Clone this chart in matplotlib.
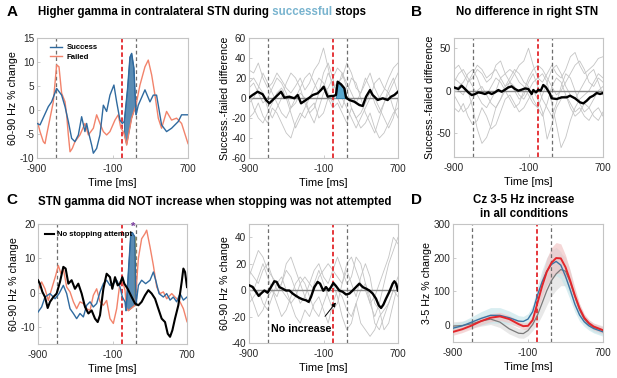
import numpy as np
import matplotlib
matplotlib.use('Agg')
import matplotlib.pyplot as plt

plt.rcParams['font.family'] = ['Liberation Sans', 'DejaVu Sans']
plt.rcParams['axes.unicode_minus'] = False

# ---------------- data ----------------
XTICKS = [-900, -100, 700]
EVENT_GRAY = [-700, 150]
EVENT_RED = 0

# Panel A (left): contralateral STN gamma, success vs failed
tA_success = [-900, -868, -780, -745, -692, -639, -603, -568, -533, -498, -462, -427, -392, -374, -356,
              -321, -303, -268, -233, -197, -162, -127, -85, -56, -21, 4, 25, 60, 85, 103, 127, 150,
              173, 244, 297, 332, 367, 385, 420, 473, 526, 597, 632, 700]
vA_success = [-2.8, -3.1, 0.7, 1.7, 4.5, 3.1, 0.7, -2.4, -5.9, -6.6, -5.2, -1.4, -4.5, -2.8, -4.5,
              -7.3, -9.0, -8.0, -5.2, 1.0, -0.3, 3.1, 5.2, 1.7, -2.1, -2.8, -2.4, 4.5, 11.0, 11.8, 8.7, -1.0,
              1.0, 4.2, 1.7, 3.1, 3.1, 1.0, -3.1, -4.5, -3.8, -2.4, -1.0, -1.0]
tA_failed = [-900, -868, -833, -815, -798, -727, -692, -667, -639, -603, -586, -568, -550, -526, -498,
             -445, -392, -356, -303, -268, -233, -197, -162, -127, -74, -39, -11, 14, 30, 50, 103, 149,
             191, 244, 279, 315, 350, 385, 420, 473, 526, 579, 632, 700]
vA_failed = [-2.1, -4.5, -6.6, -7.0, -5.2, 1.7, 9.4, 9.0, 3.5, 1.7, -1.0, -5.2, -8.7, -8.0, -6.6,
             -5.2, -2.8, -5.2, -3.8, -1.0, -2.8, -4.5, -5.2, -4.5, -2.1, -1.0, -3.8, -4.5, -5.5, -7.3, -1.7, 1.0,
             5.2, 9.0, 10.4, 7.3, 3.1, -1.7, -3.8, -0.3, -2.1, -1.7, -2.8, -7.0]
A_SIG = (25, 150)

# Panel A (right): success - failed difference, mean + individual patients
tA_diff = [-900, -861, -807, -753, -717, -682, -646, -592, -556, -520, -467, -413, -377, -341, -288,
           -252, -216, -163, -127, -98, -55, -19, 6, 34, 52, 88, 124, 142, 178, 231, 285, 321, 357,
           400, 428, 482, 536, 589, 625, 661, 700]
vA_diff = [0.3, 3.0, 6.3, 3.7, -2.0, -5.3, -2.0, 3.0, 6.3, 0.3, 1.3, -0.3, 3.0, -5.3, -2.0,
           0.3, 3.0, 4.7, 8.0, 11.3, 1.3, 2.0, 2.0, 3.0, 16.3, 13.7, 9.7, 0.3, -2.0, -3.7, -7.0, -8.0, 1.3,
           8.0, 3.0, -2.0, -0.3, -2.0, 1.3, 3.0, 6.3]
A_DIFF_SIG = (34, 142)
t_grid = np.arange(-900, 701, 50)
A_patients = [
    [28, 25, 35, 20, 10, 15, 25, 18, 10, 5, 12, 20, 8, 15, 28, 35, 50, 30, 10, 15, 20, 35, 25, 10, 5, 15, 25, 10, 0, 8, 20, 30, 35],
    [-20, -15, -5, -18, -25, -10, -15, -25, -35, -40, -25, -15, -20, -10, -5, -20, -15, 0, -10, -5, -15, -25, -10, -20, -30, -25, -15, -30, -40, -35, -25, -15, -10],
    [10, 15, 5, -5, 0, 10, 20, 15, 5, -10, -5, 5, 0, -15, -25, -10, 5, 10, 20, 30, 25, 10, -10, -20, -15, -5, 5, 0, -10, -20, -30, -20, 0],
    [-5, 0, 10, 25, 15, 5, -5, -15, -20, -10, 0, 10, 20, 25, 15, 5, 10, 25, 15, 5, 0, -10, -20, -30, -20, -10, 0, 15, 20, 10, 5, 15, 25],
    [5, -10, -20, -25, -15, -5, 5, 10, 0, -15, -30, -20, -10, 0, 10, 20, 15, 5, -5, 10, 25, 15, 5, -5, 5, 20, 10, -5, -15, -5, 10, 20, 5],
    [15, 20, 12, 5, -10, -20, -10, 0, 15, 25, 20, 10, -5, -15, -10, 5, 25, 35, 20, 0, -10, 5, 20, 15, 0, -15, -25, -35, -20, -5, 5, -10, -20],
]

# Panel B: right STN difference
tB_diff = [-900, -853, -818, -782, -746, -710, -674, -639, -603, -567, -531, -495, -460, -424, -388,
           -352, -316, -281, -245, -209, -173, -137, -102, -66, -48, -19, 6, 31, 59, 88, 131, 149, 203,
           256, 310, 346, 400, 453, 489, 525, 561, 596, 632, 668, 700]
vB_diff = [3.9, 2.0, 5.9, 2.0, -2.0, -5.1, -3.9, -2.0, -2.7, -3.9, -2.0, -3.9, -2.0, 0.8, -1.2,
           1.2, 3.9, 5.1, 2.0, 0.0, 1.2, 2.7, 2.0, -3.9, 0.8, -2.0, 1.2, 0.0, 6.7, 3.9, -3.9, -9.0, -9.8,
           -7.8, -7.8, -5.9, -9.0, -13.7, -14.9, -11.8, -7.8, -5.9, -2.7, -3.9, -2.7]
B_patients = [
    [25, 30, 20, 10, 15, 25, 20, 10, 15, 30, 35, 20, 10, 20, 30, 35, 50, 30, 15, 10, 20, 30, 20, 15, 25, 40, 45, 30, 20, 25, 30, 38, 40],
    [-20, -25, -15, -30, -40, -35, -20, -30, -45, -40, -25, -10, -5, -15, -25, -20, -10, 0, -10, -25, -57, -40, -20, -10, -5, -15, -25, -20, -30, -35, -25, -20, -30],
    [15, 10, 5, 0, -20, -45, -62, -55, -40, -20, -10, 0, 10, 5, -5, -10, 0, 10, 15, 20, 10, -15, -40, -67, -55, -35, -20, -10, -5, 0, 10, 20, 15],
    [0, 5, 10, 20, 25, 15, 0, -5, 5, 15, 10, 0, -10, -20, -15, 0, 15, 25, 30, 25, 15, 5, -5, 0, 10, 20, 30, 35, 25, 10, 5, 15, 10],
    [10, 20, 25, 15, 5, -5, -15, -20, -10, 0, 15, 20, 25, 20, 10, 5, -5, -15, -20, -30, -15, 5, 15, 10, -5, -20, -30, -25, -15, -20, -30, -35, -25],
    [-5, -15, -25, -20, -10, 0, 5, -5, -15, -20, -10, 5, 10, 0, -10, -5, 10, 20, 5, -10, -20, -30, -15, 5, 20, 15, 0, -15, -25, -20, -10, 0, 5],
    [5, 0, -5, 10, 20, 30, 25, 15, 20, 25, 15, 5, 15, 25, 20, 10, 5, -10, -20, -5, 10, 25, 30, 20, 5, -5, -10, 0, 10, 20, 25, 10, -5],
]

# Panel C (left): success, failed and no-stopping-attempt
tC_nostop = [-900, -880, -853, -825, -796, -771, -735, -700, -664, -628, -603, -574, -539, -503, -467,
             -431, -395, -359, -324, -288, -259, -234, -198, -163, -127, -102, -73, -44, -19, 6, 27, 63,
             106, 142, 178, 213, 249, 285, 321, 357, 392, 428, 464, 493, 518, 543, 571, 607, 643, 661, 679, 700]
vC_nostop = [3.6, 2.6, 0.2, -1.3, -4.5, -2.7, -1.3, -0.3, 3.1, 7.5, 7.0, 2.6, 3.6, 1.1, 2.6,
             -0.3, -4.2, -6.1, -5.2, -7.6, -8.6, -6.6, 1.1, 5.5, 4.5, 1.1, 4.5, 2.1, 2.6, 4.5, 2.6, 1.1,
             -1.3, -3.2, -3.7, -2.7, -0.8, 0.7, -0.3, -1.8, -4.7, -7.6, -8.6, -12.0, -12.9, -11.0, -7.6, -3.7, 3.1, 7.0, 6.0, 1.6]
tC_success = [-900, -861, -825, -771, -717, -674, -628, -592, -556, -520, -485, -449, -413, -377, -341,
              -306, -270, -234, -198, -163, -127, -91, -55, -19, 6, 34, 45, 75, 95, 113, 140, 152,
              178, 213, 256, 303, 339, 364, 400, 446, 482, 518, 553, 589, 625, 661, 700]
vC_success = [-5.7, -4.2, -1.3, -0.3, -1.8, -0.3, 2.1, -0.3, -4.7, -6.1, -7.6, -6.1, -7.1, -3.7, -2.7,
              -4.2, -3.2, 0.2, 2.6, 3.6, 2.1, 2.6, 3.6, 1.6, -1.3, -2.7, -5.3, 8.0, 16.5, 17.5, 16.2, -3.7,
              2.1, 3.6, 2.6, 3.6, 6.0, 3.6, -0.3, -1.3, -0.3, -2.2, -1.3, -2.7, -0.3, -2.2, -1.3]
tC_failed = [-900, -861, -825, -789, -753, -710, -682, -653, -628, -592, -556, -520, -485, -449, -413,
             -377, -341, -306, -270, -234, -198, -163, -127, -91, -55, -19, 6, 34, 50, 70, 106, 142,
             178, 213, 249, 267, 303, 339, 375, 410, 446, 482, 536, 571, 625, 661, 700]
vC_failed = [0.7, 3.1, 1.1, -2.3, 1.1, 5.0, 7.9, 5.5, 7.0, 1.6, 0.2, -2.7, -4.7, -2.7, -3.2,
             -4.7, -5.2, -0.8, 1.1, -2.7, -3.7, -2.3, -7.6, -9.0, -4.7, 3.1, 3.6, 0.7, -4.5, -5.3, -4.5, -3.7,
             10.0, 15.7, 17.2, 18.2, 13.3, 7.9, 1.6, -0.3, 0.2, -1.8, -0.3, -1.3, -2.7, -4.7, -8.5]
C_SIG = (45, 142)

# Panel C (right): no-stopping attempt, mean + individual patients
tC_mean = [-900, -861, -825, -796, -771, -735, -700, -664, -628, -603, -574, -539, -503, -467, -431,
           -395, -359, -324, -288, -259, -234, -198, -163, -137, -102, -73, -44, -19, 6, 34, 70, 106,
           142, 178, 213, 249, 285, 321, 357, 392, 428, 464, 493, 518, 543, 571, 607, 643, 661, 679, 700]
vC_mean = [3.7, 2.4, -1.3, -4.4, -2.6, -0.3, -2.0, 2.3, 6.7, 6.2, 2.3, 1.1, -0.3, -0.3, -2.6,
           -4.4, -5.9, -7.0, -7.7, -8.9, -5.1, 2.3, 6.2, 4.9, -0.5, 2.3, -0.3, 2.3, 5.4, 3.1, -0.3, -1.3,
           -3.3, -2.6, -0.3, 2.3, 4.9, 2.3, 1.1, -0.3, -2.6, -6.5, -11.5, -13.5, -11.0, -6.5, -1.3, 4.9, 6.7, 4.9, -0.3]
C_patients = [
    [10, 20, 30, 25, 15, 10, 5, 0, -5, -10, -5, 5, 10, 5, 0, 10, 15, 20, 15, 10, 5, 20, 25, 15, 5, 0, -10, -5, 5, 15, 25, 40, 35],
    [-10, -5, 0, -10, -15, -5, 5, 10, 0, -10, -20, -25, -15, -20, -10, -5, -15, -25, -10, 0, -5, -15, -20, -10, -25, -30, -35, -30, -20, -15, -10, 0, 10],
    [15, 10, 5, 15, 20, 10, 0, 5, 15, 10, 0, -10, -5, 5, 15, 20, 10, 5, 15, 25, 15, 5, 10, 25, 20, 5, -10, -20, -10, 5, 20, 30, 40],
    [0, -10, -20, -15, -5, 0, -10, -20, -15, -5, 5, 10, 5, -5, -15, -20, -10, 0, 5, -5, -20, -30, -25, -10, 0, 5, -5, -25, -30, -20, -10, 0, -5],
    [5, 0, 10, 20, 10, 0, -5, 5, 20, 25, 15, 5, -5, -10, 5, 15, 5, -5, -15, -10, 5, 15, 5, -5, 10, 20, 10, -10, -15, -30, -25, -10, 5],
]

# Panel D: Cz 3-5 Hz
tD = [-900, -800, -700, -600, -500, -400, -300, -200, -150, -100, -50, 0, 50, 100, 150, 200, 250,
      300, 350, 400, 450, 500, 550, 600, 700]
D_failed = [-20, -12, -1, 12, 22, 26, 18, 3, -3, -2, 15, 65, 115, 158, 185, 199, 198, 172, 132, 88, 50, 22, 6, -4, -15]
D_success = [-9, -2, 9, 20, 29, 29, 22, 12, 11, 18, 40, 88, 128, 160, 180, 189, 178, 145, 105, 62, 30, 10, -2, -10, -20]
D_nostop = [-3, -1, 4, 12, 18, 9, -11, -24, -25, -16, 2, 29, 65, 102, 132, 152, 165, 160, 128, 85, 45, 18, 3, -7, -15]
D_failed_ci = [10, 10, 10, 11, 12, 12, 11, 10, 10, 11, 14, 22, 32, 40, 45, 46, 43, 36, 28, 20, 14, 11, 10, 10, 10]
D_success_ci = [13, 13, 16, 20, 23, 23, 20, 16, 15, 16, 20, 27, 35, 40, 42, 42, 40, 35, 30, 23, 18, 14, 13, 13, 13]
D_nostop_ci = [13, 13, 13, 15, 16, 16, 15, 14, 14, 15, 18, 26, 36, 43, 46, 48, 48, 43, 36, 26, 18, 14, 13, 13, 13]

# ---------------- style ----------------
BLUE = '#2f6a9f'
SALMON = '#f2836b'
FILL_DARK = '#5a8cb4'
FILL_LIGHT = '#58a7cd'
RED = '#e3262b'
GREYDASH = '#6e6e6e'
INDIV = '#c4c4c4'
SPINE = '#c4c4c4'

W, H = 617, 378
fig = plt.figure(figsize=(W / 100, H / 100), dpi=100)


def rect(l, r, t, b):
    return [l / W, 1 - b / H, (r - l) / W, (b - t) / H]


def style(ax, ylim, yticks, ylabel, zero=False):
    ax.set_xlim(-900, 700)
    ax.set_ylim(*ylim)
    ax.set_xticks(XTICKS)
    ax.set_yticks(yticks)
    ax.set_xlabel('Time [ms]', fontsize=8, labelpad=2.5)
    ax.set_ylabel(ylabel, fontsize=7.7, labelpad=1)
    for s in ax.spines.values():
        s.set_color(SPINE)
        s.set_linewidth(0.8)
    ax.tick_params(direction='in', length=2.5, width=0.6, color=SPINE,
                   labelsize=7.2, pad=2, labelcolor='#262626')
    ax.tick_params(axis='x', pad=4.5)
    if zero:
        ax.axhline(0, color='#8a8a8a', lw=1.0, zorder=1.5)
    for x in EVENT_GRAY:
        ax.axvline(x, color=GREYDASH, lw=0.9, ls=(0, (3, 2.2)), zorder=1.6)
    ax.axvline(EVENT_RED, color=RED, lw=1.3, ls=(0, (2.5, 1.5)), zorder=1.7)


def window(t, v, lo, hi):
    t = np.asarray(t, float)
    v = np.asarray(v, float)
    m = (t >= lo) & (t <= hi)
    return t[m], v[m]


LEG_PROP = {'weight': 'bold', 'size': 5.6}

# ---- A left ----
ax = fig.add_axes(rect(37, 188, 38, 158))
style(ax, (-10, 15), [-10, -5, 0, 5, 10, 15], '60-90 Hz % change')
tb, vb = window(tA_success, vA_success, *A_SIG)
tr, vr = window(tA_failed, vA_failed, *A_SIG)
ax.fill(np.concatenate([tb, tr[::-1]]), np.concatenate([vb, vr[::-1]]),
        color=FILL_DARK, ec='#2d5f8c', lw=0.6, zorder=2)
l1, = ax.plot(tA_success, vA_success, color=BLUE, lw=1.0, zorder=3, label='Success')
l2, = ax.plot(tA_failed, vA_failed, color=SALMON, lw=1.0, zorder=2.5, label='Failed')
ax.legend(handles=[l1, l2], loc='upper left', bbox_to_anchor=(0.04, 1.01), frameon=False,
          handlelength=1.5, handletextpad=0.6, labelspacing=0.25, prop=LEG_PROP)

# ---- A right ----
ax = fig.add_axes(rect(249, 398, 38, 158))
style(ax, (-60, 60), [-60, -40, -20, 0, 20, 40, 60], 'Success.-failed difference', zero=True)
for tr_ in A_patients:
    ax.plot(t_grid, tr_, color=INDIV, lw=0.6, zorder=1.2)
tw, vw = window(tA_diff, vA_diff, *A_DIFF_SIG)
ax.fill_between(tw, 0, vw, color=FILL_LIGHT, ec='#2f7fad', lw=0.6, zorder=2)
ax.plot(tA_diff, vA_diff, color='black', lw=1.7, zorder=3)

# ---- B ----
ax = fig.add_axes(rect(454, 603, 38, 157))
style(ax, (-78, 62), [-50, 0, 50], 'Success.-failed difference', zero=True)
for tr_ in B_patients:
    ax.plot(t_grid, tr_, color=INDIV, lw=0.6, zorder=1.2)
ax.plot(tB_diff, vB_diff, color='black', lw=1.7, zorder=3)

# ---- C left ----
ax = fig.add_axes(rect(38, 187, 224, 344))
style(ax, (-15, 20), [-10, 0, 10, 20], '60-90 Hz % change')
tb, vb = window(tC_success, vC_success, *C_SIG)
tr, vr = window(tC_failed, vC_failed, *C_SIG)
ax.fill(np.concatenate([tb, tr[::-1]]), np.concatenate([vb, vr[::-1]]),
        color=FILL_DARK, ec='#2d5f8c', lw=0.6, zorder=2)
ax.plot([C_SIG[1], C_SIG[1]], [vr[-1], vb[-1]], color='#e8c53a', lw=1.0, zorder=2.2)
ax.plot(tC_failed, vC_failed, color=SALMON, lw=1.0, zorder=2.5)
ax.plot(tC_success, vC_success, color=BLUE, lw=1.0, zorder=3)
l3, = ax.plot(tC_nostop, vC_nostop, color='black', lw=1.5, zorder=3.5, label='No stopping attempt')
ax.legend(handles=[l3], loc='upper left', bbox_to_anchor=(0.0, 1.0), frameon=False,
          handlelength=1.2, handletextpad=0.4, prop=LEG_PROP)
ax.text(120, 19.3, '*', color='#7b3fa0', fontsize=8, fontweight='bold', ha='center', va='center',
        zorder=5, clip_on=False)

# ---- C right ----
ax = fig.add_axes(rect(249, 398, 224, 343))
style(ax, (-40, 50), [-40, -20, 0, 20, 40], '60-90 Hz % change', zero=True)
for tr_ in C_patients:
    ax.plot(t_grid, tr_, color=INDIV, lw=0.6, zorder=1.2)
ax.plot(tC_mean, vC_mean, color='black', lw=1.7, zorder=3)
ax.annotate('', xy=(52, -7.7), xytext=(-102, -21.5),
            arrowprops=dict(arrowstyle='-|>', color='black', lw=0.7, mutation_scale=6), zorder=4)
ax.text(-664, -29.4, 'No increase', fontsize=7.7, fontweight='bold', ha='left', va='center', zorder=4)

# ---- D ----
ax = fig.add_axes(rect(453, 603, 224, 342))
style(ax, (-50, 300), [0, 100, 200, 300], '3-5 Hz % change')
tDa = np.asarray(tD, float)
for mean, ci, fc in [(D_nostop, D_nostop_ci, '#dcdcdc'),
                     (D_success, D_success_ci, '#c6e5ea'),
                     (D_failed, D_failed_ci, '#f1c2c2')]:
    m = np.asarray(mean, float)
    c = np.asarray(ci, float)
    ax.fill_between(tDa, m - c, m + c, color=fc, alpha=0.65, lw=0, zorder=1.3)
for mean, lc, lw in [(D_nostop, '#7a7a7a', 0.9), (D_success, '#3a74a3', 1.0), (D_failed, RED, 1.4)]:
    ax.plot(tDa, mean, color=lc, lw=lw, zorder=3)

# ---------------- titles & panel letters ----------------
renderer = fig.canvas.get_renderer()
TITLE_FS = 8.3


def multicolor(x_px, y_px, parts):
    x = x_px / W
    for s, c in parts:
        t = fig.text(x, 1 - y_px / H, s, color=c, fontsize=TITLE_FS, fontweight='bold',
                     ha='left', va='center')
        bb = t.get_window_extent(renderer=renderer)
        x += bb.width / fig.bbox.width


multicolor(38, 12, [('Higher gamma in contralateral STN during', 'black'),
                    (' successful', '#79b4cf'),
                    (' stops', 'black')])
fig.text(527 / W, 1 - 12 / H, 'No difference in right STN', fontsize=TITLE_FS, fontweight='bold',
         ha='center', va='center')
fig.text(38 / W, 1 - 202 / H, 'STN gamma did NOT increase when stopping was not attempted',
         fontsize=TITLE_FS, fontweight='bold', ha='left', va='center')
fig.text(524 / W, 1 - 207 / H, 'Cz 3-5 Hz increase\nin all conditions', fontsize=TITLE_FS,
         fontweight='bold', ha='center', va='center', linespacing=1.15)

for letter, x, y in [('A', 12, 12), ('B', 417, 12), ('C', 12, 200), ('D', 417, 200)]:
    fig.text(x / W, 1 - y / H, letter, fontsize=11, fontweight='bold', ha='center', va='center')

fig.savefig('out.png', dpi=100)
